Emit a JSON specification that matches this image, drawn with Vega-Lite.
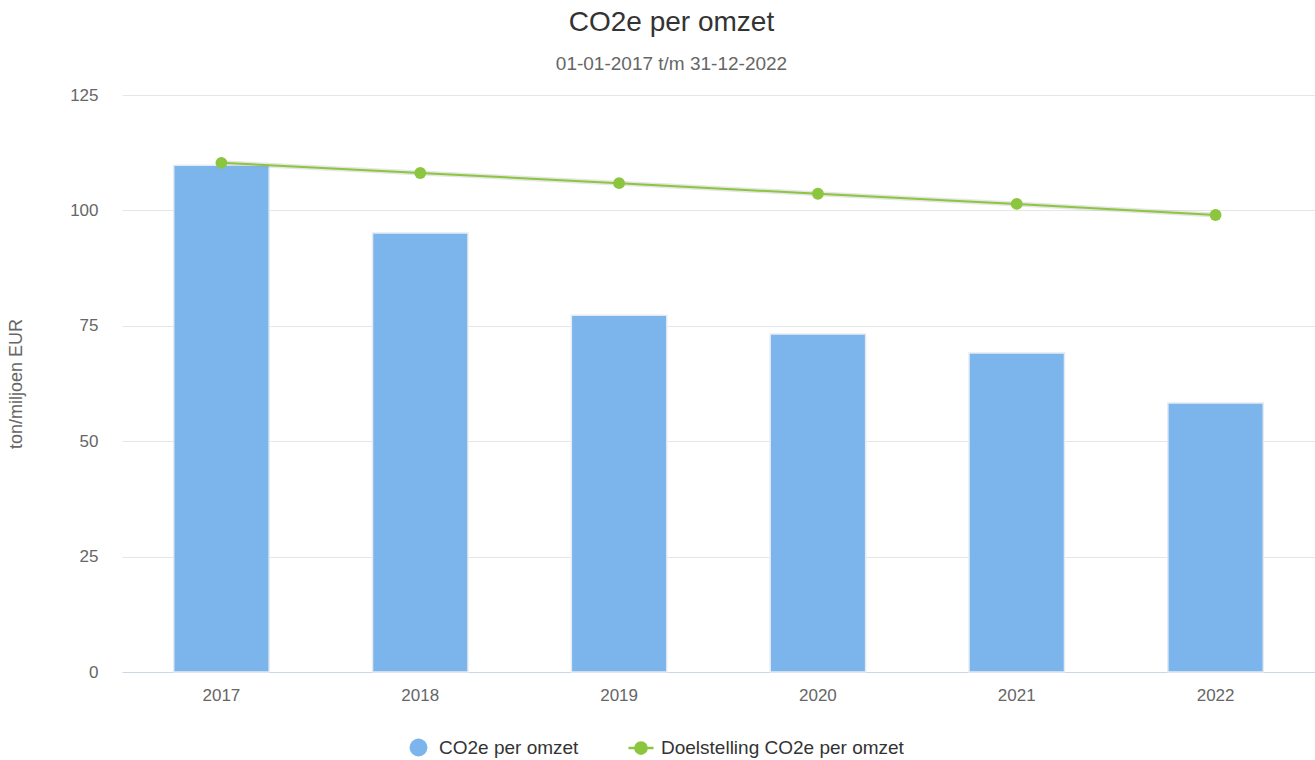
{
  "$schema": "https://vega.github.io/schema/vega-lite/v6.json",
  "width": 1193,
  "height": 577,
  "autosize": {"type": "none"},
  "padding": {"left": 122, "top": 95, "right": 0, "bottom": 88},
  "background": "#ffffff",
  "config": {
    "font": "Liberation Sans",
    "view": {"stroke": null},
    "axis": {"labelFont": "Liberation Sans", "titleFont": "Liberation Sans"}
  },
  "title": {
    "text": "CO2e per omzet",
    "subtitle": "01-01-2017 t/m 31-12-2022",
    "anchor": "middle",
    "dx": -47,
    "fontSize": 28,
    "fontWeight": "normal",
    "color": "#333333",
    "subtitleFontSize": 19,
    "subtitleColor": "#666666",
    "subtitlePadding": 18,
    "offset": 12,
    "font": "Liberation Sans",
    "subtitleFont": "Liberation Sans"
  },
  "data": {
    "values": [
      {"jaar": "2017", "waarde": 109.8, "doel": 110.3},
      {"jaar": "2018", "waarde": 95.1, "doel": 108.1},
      {"jaar": "2019", "waarde": 77.3, "doel": 105.9},
      {"jaar": "2020", "waarde": 73.2, "doel": 103.6},
      {"jaar": "2021", "waarde": 69.1, "doel": 101.4},
      {"jaar": "2022", "waarde": 58.3, "doel": 99.0}
    ]
  },
  "encoding": {
    "x": {
      "field": "jaar",
      "type": "nominal",
      "scale": {"paddingInner": 0.52, "paddingOuter": 0.26},
      "axis": {
        "title": null,
        "labelAngle": 0,
        "labelFontSize": 17,
        "labelColor": "#666666",
        "labelPadding": 15,
        "ticks": false,
        "domainColor": "#ccd6eb",
        "domainWidth": 1,
        "grid": false
      }
    }
  },
  "layer": [
    {
      "mark": {"type": "bar", "stroke": "#e6ebf2", "strokeWidth": 1.5},
      "encoding": {
        "y": {
          "field": "waarde",
          "type": "quantitative",
          "scale": {"domain": [0, 125], "nice": false},
          "axis": {
            "title": "ton/miljoen EUR",
            "titleFontSize": 18,
            "titleFontWeight": "normal",
            "titleColor": "#666666",
            "titlePadding": 44,
            "values": [0, 25, 50, 75, 100, 125],
            "labelFontSize": 17,
            "labelColor": "#666666",
            "labelPadding": 24,
            "ticks": false,
            "domain": false,
            "gridColor": "#e6e6e6",
            "gridWidth": 1
          }
        },
        "fill": {
          "datum": "CO2e per omzet",
          "type": "nominal",
          "scale": {"domain": ["CO2e per omzet"], "range": ["#7cb5ec"]},
          "legend": {
            "title": null,
            "orient": "none",
            "legendX": 287,
            "legendY": 643,
            "labelFontSize": 19,
            "labelColor": "#333333",
            "labelFont": "Liberation Sans",
            "labelLimit": 0,
            "symbolType": "circle",
            "symbolSize": 320,
            "labelOffset": 11,
            "symbolStrokeWidth": 0,
            "symbolOpacity": 1
          }
        }
      }
    },
    {
      "mark": {"type": "line", "color": "#9a9a9a", "strokeWidth": 5, "opacity": 0.25},
      "encoding": {
        "y": {"field": "doel", "type": "quantitative"}
      }
    },
    {
      "mark": {"type": "line", "strokeWidth": 2},
      "encoding": {
        "y": {"field": "doel", "type": "quantitative"},
        "stroke": {
          "datum": "Doelstelling CO2e per omzet",
          "type": "nominal",
          "scale": {"domain": ["Doelstelling CO2e per omzet"], "range": ["#8cc63f"]},
          "legend": {
            "title": null,
            "orient": "none",
            "legendX": 505,
            "legendY": 639,
            "labelFontSize": 19,
            "labelColor": "#333333",
            "labelFont": "Liberation Sans",
            "labelLimit": 0,
            "symbolType": "M-1,0 L1,0 M-0.45,0 A0.45,0.45 0 1,0 0.45,0 A0.45,0.45 0 1,0 -0.45,0 Z",
            "symbolSize": 625,
            "symbolFillColor": "#8cc63f",
            "symbolStrokeColor": "#8cc63f",
            "symbolStrokeWidth": 2.5,
            "labelOffset": 6,
            "symbolOpacity": 1
          }
        }
      }
    },
    {
      "mark": {"type": "point", "filled": true, "size": 140, "opacity": 1, "color": "#8cc63f", "shape": "circle"},
      "encoding": {
        "y": {"field": "doel", "type": "quantitative"}
      }
    }
  ]
}
